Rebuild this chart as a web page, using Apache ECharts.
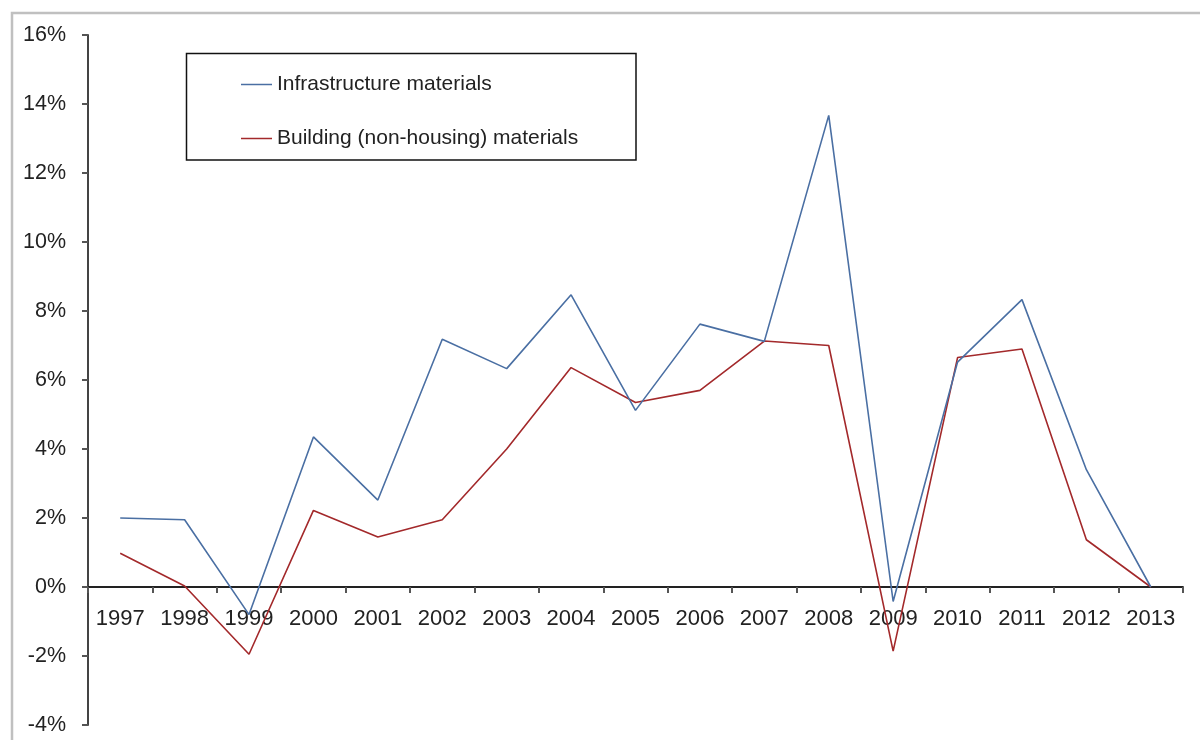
<!DOCTYPE html>
<html>
<head>
<meta charset="utf-8">
<script src="https://cdn.jsdelivr.net/npm/echarts@6/dist/echarts.min.js"></script>
<style>
html,body{margin:0;padding:0;background:#fff;}
#chart{width:1200px;height:740px;}
</style>
</head>
<body>
<div id="chart"></div>
<script>
const years = ['1997','1998','1999','2000','2001','2002','2003','2004','2005','2006','2007','2008','2009','2010','2011','2012','2013'];
const infrastructure = [2.0, 1.95, -0.8, 4.35, 2.52, 7.18, 6.33, 8.47, 5.12, 7.62, 7.12, 13.67, -0.42, 6.52, 8.33, 3.4, 0.0];
const building = [0.98, 0.03, -1.95, 2.22, 1.45, 1.95, 4.0, 6.36, 5.35, 5.7, 7.13, 7.0, -1.86, 6.65, 6.9, 1.37, 0.0];
const seriesNames = ['Infrastructure materials', 'Building (non-housing) materials'];
const yMin = -4, yMax = 16, yStep = 2;

const chart = echarts.init(document.getElementById('chart'), null, {renderer: 'canvas'});
const font = 'Liberation Sans, Arial, Helvetica, sans-serif';
chart.setOption({
  animation: false,
  backgroundColor: '#ffffff',
  graphic: [
    {type: 'rect', x: 0, y: 0, shape: {x: 12, y: 13, width: 1250, height: 800}, style: {fill: 'none', stroke: '#c0c0c0', lineWidth: 2.5}, z: 0},
    {type: 'rect', x: 0, y: 0, shape: {x: 186.5, y: 53.5, width: 449.5, height: 106.5}, style: {fill: '#fff', stroke: '#111', lineWidth: 1.5}, z: 5}
  ],
  legend: {
    orient: 'vertical',
    left: 236,
    top: 69,
    padding: 5,
    itemWidth: 31,
    itemHeight: 1.5,
    itemGap: 33,
    icon: 'rect',
    z: 10,
    textStyle: {fontFamily: font, fontSize: 21, color: '#222'},
    data: seriesNames
  },
  grid: {left: 88, right: 17, top: 35, bottom: 15, outerBoundsMode: 'none', containLabel: false},
  xAxis: {
    type: 'category',
    data: years,
    boundaryGap: true,
    position: 'bottom',
    offset: 0,
    axisLine: {onZero: false, lineStyle: {color: '#222', width: 1.8}},
    axisTick: {show: true, length: 6, inside: false, alignWithLabel: false, lineStyle: {color: '#555', width: 2}},
    axisLabel: {fontFamily: font, fontSize: 22, color: '#222', margin: 21, interval: 0}
  },
  yAxis: {
    type: 'value',
    min: yMin,
    max: yMax,
    interval: yStep,
    splitLine: {show: false},
    axisLine: {show: true, lineStyle: {color: '#444', width: 2}},
    axisTick: {show: true, length: 6, lineStyle: {color: '#555', width: 2}},
    axisLabel: {fontFamily: font, fontSize: 21.5, color: '#222', margin: 22, formatter: v => v + '%'}
  },
  series: [
    {name: seriesNames[0], type: 'line', data: infrastructure, showSymbol: false, symbol: 'none', lineStyle: {color: '#4a6fa3', width: 1.6}, itemStyle: {color: '#4a6fa3'}, z: 3},
    {name: seriesNames[1], type: 'line', data: building, showSymbol: false, symbol: 'none', lineStyle: {color: '#a3292b', width: 1.6}, itemStyle: {color: '#a3292b'}, z: 2}
  ]
});
// Move the category axis (line, ticks, labels) up to the zero line using the library's own y scale.
const zeroPx = chart.convertToPixel({yAxisIndex: 0}, 0);
const minPx = chart.convertToPixel({yAxisIndex: 0}, yMin);
chart.setOption({xAxis: {offset: -(minPx - zeroPx)}});
</script>
</body>
</html>
